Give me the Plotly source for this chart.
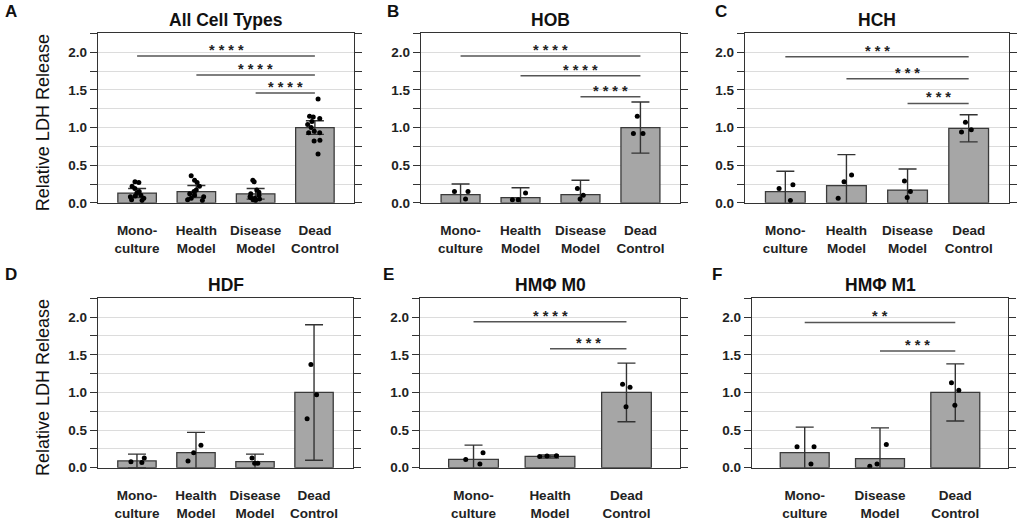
import plotly.graph_objects as go
from plotly.subplots import make_subplots

# categories
cats4 = ["Mono-<br>culture", "Health<br>Model", "Disease<br>Model", "Dead<br>Control"]
cats_e = ["Mono-<br>culture", "Health<br>Model", "Dead<br>Control"]
cats_f = ["Mono-<br>culture", "Disease<br>Model", "Dead<br>Control"]

titles = ["All Cell Types", "HOB", "HCH", "HDF", "HMΦ M0", "HMΦ M1"]
letters = ["A", "B", "C", "D", "E", "F"]

# bar heights (mean) and error (SD)
mean_a = [0.13, 0.15, 0.12, 1.00]
sd_a = [0.06, 0.08, 0.07, 0.09]
mean_b = [0.11, 0.07, 0.11, 1.00]
sd_b = [0.14, 0.13, 0.19, 0.34]
mean_c = [0.15, 0.23, 0.17, 0.99]
sd_c = [0.27, 0.41, 0.28, 0.18]
mean_d = [0.09, 0.20, 0.08, 1.00]
sd_d = [0.09, 0.27, 0.10, 0.90]
mean_e = [0.11, 0.15, 1.00]
sd_e = [0.19, 0.02, 0.39]
mean_f = [0.20, 0.12, 1.00]
sd_f = [0.34, 0.41, 0.38]

# individual replicates
pts_a = [
    [0.28, 0.27, 0.22, 0.19, 0.15, 0.13, 0.10, 0.09, 0.08, 0.06, 0.04, 0.03],
    [0.36, 0.30, 0.27, 0.22, 0.17, 0.15, 0.12, 0.10, 0.08, 0.06, 0.04, 0.03],
    [0.30, 0.28, 0.17, 0.14, 0.12, 0.10, 0.08, 0.07, 0.06, 0.05, 0.04, 0.03],
    [1.38, 1.15, 1.14, 1.12, 1.08, 1.04, 1.00, 0.95, 0.93, 0.93, 0.82, 0.83, 0.65],
]
pts_b = [[0.15, 0.15, 0.05], [0.13, 0.04, 0.04], [0.19, 0.10, 0.05], [1.15, 0.92, 0.92]]
pts_c = [[0.24, 0.19, 0.03], [0.37, 0.28, 0.06], [0.29, 0.15, 0.07], [1.07, 0.97, 0.94]]
pts_d = [[0.13, 0.08, 0.07], [0.30, 0.20, 0.09], [0.13, 0.06, 0.06], [1.37, 0.97, 0.65]]
pts_e = [[0.20, 0.11, 0.05], [0.15, 0.155, 0.16], [1.11, 1.07, 0.81]]
pts_f = [[0.28, 0.28, 0.05], [0.31, 0.05, 0.02], [1.13, 1.03, 0.83]]

# significance brackets: (from, to, height, stars)
sig_a = [(0, 3, 1.95, "****"), (1, 3, 1.70, "****"), (2, 3, 1.46, "****")]
sig_b = [(0, 3, 1.95, "****"), (1, 3, 1.69, "****"), (2, 3, 1.41, "****")]
sig_c = [(0, 3, 1.94, "***"), (1, 3, 1.65, "***"), (2, 3, 1.32, "***")]
sig_d = []
sig_e = [(0, 2, 1.94, "****"), (1, 2, 1.58, "***")]
sig_f = [(0, 2, 1.93, "**"), (1, 2, 1.55, "***")]

panels = [
    (cats4, mean_a, sd_a, pts_a, sig_a),
    (cats4, mean_b, sd_b, pts_b, sig_b),
    (cats4, mean_c, sd_c, pts_c, sig_c),
    (cats4, mean_d, sd_d, pts_d, sig_d),
    (cats_e, mean_e, sd_e, pts_e, sig_e),
    (cats_f, mean_f, sd_f, pts_f, sig_f),
]

W, H = 1024, 522
# plot boxes in pixels (left, right, top, bottom)
boxes = [
    (98, 354, 34, 206), (421, 680, 34, 206), (745, 1009, 34, 206),
    (98, 353, 303, 475), (420, 680, 303, 475), (752, 1008, 303, 475),
]
letter_pos = [(3, 12), (385, 12), (713, 12), (3, 279), (381, 279), (710, 279)]

FONT = "Liberation Sans, Arial, sans-serif"
fig = make_subplots(rows=2, cols=3)

for k, (cats, means, sds, pts, sigs) in enumerate(panels):
    row, col = k // 3 + 1, k % 3 + 1
    fig.add_trace(
        go.Bar(
            x=cats, y=means, width=0.65,
            marker=dict(color="#a6a6a6", line=dict(color="#3a3a3a", width=1.3)),
            error_y=dict(type="data", array=sds, color="#333333", thickness=1.4, width=9),
            showlegend=False, hoverinfo="skip",
        ),
        row=row, col=col,
    )
    bx, by = [], []
    for c, vals in zip(cats, pts):
        bx += [c] * len(vals)
        by += vals
    fig.add_trace(
        go.Box(
            x=bx, y=by, boxpoints="all", jitter=0.8, pointpos=0, width=0.4,
            fillcolor="rgba(0,0,0,0)", line=dict(color="rgba(0,0,0,0)", width=0),
            marker=dict(color="black", size=5),
            showlegend=False, hoverinfo="skip",
        ),
        row=row, col=col,
    )

    l, r, t, b = boxes[k]
    n = len(cats)
    pad = 0.66 if n == 4 else 0.7
    fig.update_xaxes(
        domain=[l / W, r / W], range=[-pad, n - 1 + pad],
        showline=True, linecolor="#333333", linewidth=1.3, mirror=True,
        ticks="", showgrid=False, ticklabelstandoff=15,
        tickfont=dict(family=FONT, size=13.5, color="#222222", weight="bold"),
        row=row, col=col,
    )
    fig.update_yaxes(
        domain=[1 - b / H, 1 - t / H], range=[0, 2.25],
        tickvals=[0, 0.5, 1.0, 1.5, 2.0], ticktext=["0.0", "0.5", "1.0", "1.5", "2.0"],
        showline=True, linecolor="#333333", linewidth=1.3, mirror="ticks",
        ticks="outside", ticklen=7, tickwidth=1.3, tickcolor="#333333",
        showgrid=True, gridcolor="#dcdcdc", gridwidth=1, zeroline=False,
        minor=dict(dtick=0.25, tick0=0, ticks="outside", ticklen=7, tickwidth=1.3,
                   tickcolor="#333333", showgrid=True, gridcolor="#dcdcdc", gridwidth=1),
        tickfont=dict(family=FONT, size=13.5, color="#222222", weight="bold"),
        row=row, col=col,
    )

    xref = "x" if k == 0 else f"x{k + 1}"
    yref = "y" if k == 0 else f"y{k + 1}"
    for i, j, h, stars in sigs:
        fig.add_shape(type="line", xref=xref, yref=yref, x0=i, x1=j, y0=h, y1=h,
                      line=dict(color="#555555", width=1.5))
        fig.add_annotation(xref=xref, yref=yref, x=(i + j) / 2, y=h, text=" ".join(stars),
                           showarrow=False, xanchor="center", yanchor="bottom", yshift=-4,
                           font=dict(family=FONT, size=14.5, color="#222222", weight="bold"))

    # panel title
    fig.add_annotation(xref="paper", yref="paper", x=(l + r) / 2 / W, y=1 - t / H,
                       text=titles[k], showarrow=False, xanchor="center", yanchor="bottom",
                       yshift=1,
                       font=dict(family=FONT, size=17.5, color="#111111", weight="bold"))
    lx, ly = letter_pos[k]
    fig.add_annotation(xref="paper", yref="paper", x=lx / W, y=1 - ly / H,
                       text=letters[k], showarrow=False, xanchor="left", yanchor="middle",
                       font=dict(family=FONT, size=17, color="#111111", weight="bold"))

# y-axis titles on the left column
for t, b in [(34, 206), (303, 475)]:
    fig.add_annotation(xref="paper", yref="paper", x=43 / W, y=1 - (t + b) / 2 / H,
                       text="Relative LDH Release", textangle=-90, showarrow=False,
                       xanchor="center", yanchor="middle", yshift=-5,
                       font=dict(family=FONT, size=18, color="#111111"))

fig.update_layout(
    width=W, height=H,
    margin=dict(l=0, r=0, t=0, b=0),
    paper_bgcolor="white", plot_bgcolor="white",
    barmode="overlay", boxmode="overlay",
)

# drop the browser's default page margin so the figure sits at the window origin
fig.write_html(
    "out.html",
    config={"displayModeBar": False},
    post_script="document.body.style.margin = '0px';",
)
